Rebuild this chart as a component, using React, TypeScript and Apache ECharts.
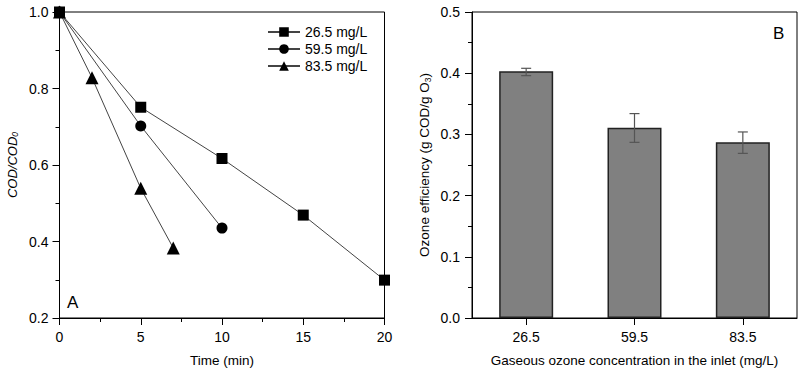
import React, { useEffect, useRef } from "react";
import * as echarts from "echarts";

const timeA = [0, 5, 10, 15, 20];
const codA = [1.0, 0.751, 0.617, 0.469, 0.299];
const timeB = [0, 5, 10];
const codB = [1.0, 0.702, 0.435];
const timeC = [0, 2, 5, 7];
const codC = [1.0, 0.828, 0.539, 0.383];
const seriesNames = ["26.5 mg/L", "59.5 mg/L", "83.5 mg/L"];

const concCategories = ["26.5", "59.5", "83.5"];
const efficiency = [0.403, 0.311, 0.287];
const errLow = [0.396, 0.287, 0.269];
const errHigh = [0.408, 0.334, 0.304];

const FONT = "Liberation Sans, Arial, sans-serif";

export default function App() {
  const ref = useRef<HTMLDivElement>(null);
  useEffect(() => {
    if (!ref.current) return;
    const chart = echarts.init(ref.current, null, { renderer: "svg" });
    const zip = (xs: number[], ys: number[]) => xs.map((x, i) => [x, ys[i]]);
    const axisText = { color: "#000", fontSize: 14, fontFamily: FONT };
    const nameText = { color: "#000", fontSize: 13.5, fontFamily: FONT };
    const lineSeries = (name: string, data: number[][], symbol: string, size: number) => ({
      name,
      type: "line",
      xAxisIndex: 0,
      yAxisIndex: 0,
      data,
      symbol,
      symbolSize: size,
      itemStyle: { color: "#000" },
      lineStyle: { color: "#444", width: 1 },
      clip: false,
      z: 3,
    });
    chart.setOption({
      animation: false,
      backgroundColor: "#fff",
      textStyle: { fontFamily: FONT },
      grid: [
        { left: 59.5, top: 12, width: 325, height: 306, show: true, borderColor: "#000", borderWidth: 1, backgroundColor: "transparent" },
        { left: 472, top: 12, width: 325, height: 306, show: true, borderColor: "#000", borderWidth: 1, backgroundColor: "transparent" },
      ],
      legend: {
        left: 267,
        top: 25,
        padding: 0,
        orient: "vertical",
        itemWidth: 32,
        itemHeight: 12,
        itemGap: 3,
        textStyle: { color: "#000", fontSize: 14, fontFamily: FONT },
        data: seriesNames,
      },
      xAxis: [
        {
          type: "value",
          gridIndex: 0,
          min: 0,
          max: 20,
          interval: 5,
          name: "Time (min)",
          nameLocation: "middle",
          nameGap: 35,
          nameTextStyle: nameText,
          axisLine: { lineStyle: { color: "#000", width: 1 } },
          axisTick: { show: true, inside: false, length: 7, lineStyle: { color: "#000" } },
          minorTick: { show: true, splitNumber: 2, length: 4, lineStyle: { color: "#000" } },
          axisLabel: { ...axisText, margin: 12 },
          splitLine: { show: false },
        },
        {
          type: "category",
          gridIndex: 1,
          data: concCategories,
          name: "Gaseous ozone concentration in the inlet (mg/L)",
          nameLocation: "middle",
          nameGap: 35,
          nameTextStyle: nameText,
          axisLine: { lineStyle: { color: "#000", width: 1 } },
          axisTick: { show: true, alignWithLabel: true, length: 7, lineStyle: { color: "#000" } },
          axisLabel: { ...axisText, margin: 12 },
          splitLine: { show: false },
        },
      ],
      yAxis: [
        {
          type: "value",
          gridIndex: 0,
          min: 0.2,
          max: 1.0,
          interval: 0.2,
          name: "{it|COD/COD}{sub|0}",
          nameLocation: "middle",
          nameGap: 40,
          nameTextStyle: {
            color: "#000",
            fontSize: 13,
            fontFamily: FONT,
            rich: {
              it: { fontSize: 13, fontStyle: "italic", fontFamily: FONT, color: "#000" },
              sub: { fontSize: 8.5, fontStyle: "italic", fontFamily: FONT, color: "#000", verticalAlign: "bottom", padding: [6, 0, 0, 0] },
            },
          },
          axisLine: { show: true, lineStyle: { color: "#000", width: 1 } },
          axisTick: { show: true, length: 7, lineStyle: { color: "#000" } },
          minorTick: { show: true, splitNumber: 2, length: 4, lineStyle: { color: "#000" } },
          axisLabel: { ...axisText, margin: 11, formatter: (v: number) => v.toFixed(1) },
          splitLine: { show: false },
        },
        {
          type: "value",
          gridIndex: 1,
          min: 0,
          max: 0.5,
          interval: 0.1,
          name: "{n|Ozone efficiency (g COD/g O}{sub|3}{n|)}",
          nameLocation: "middle",
          nameGap: 40,
          nameTextStyle: {
            ...nameText,
            rich: {
              n: { ...nameText },
              sub: { fontSize: 8.5, fontFamily: FONT, color: "#000", verticalAlign: "bottom", padding: [6, 0, 0, 0] },
            },
          },
          axisLine: { show: true, lineStyle: { color: "#000", width: 1 } },
          axisTick: { show: true, length: 7, lineStyle: { color: "#000" } },
          minorTick: { show: true, splitNumber: 2, length: 4, lineStyle: { color: "#000" } },
          axisLabel: { ...axisText, margin: 12, formatter: (v: number) => v.toFixed(1) },
          splitLine: { show: false },
        },
      ],
      series: [
        lineSeries(seriesNames[0], zip(timeA, codA), "rect", 11),
        lineSeries(seriesNames[1], zip(timeB, codB), "circle", 11),
        lineSeries(seriesNames[2], zip(timeC, codC), "triangle", 13),
        {
          type: "bar",
          xAxisIndex: 1,
          yAxisIndex: 1,
          data: efficiency,
          barWidth: 54,
          itemStyle: { color: "#808080", borderColor: "#222", borderWidth: 1.5 },
        },
        {
          type: "custom",
          xAxisIndex: 1,
          yAxisIndex: 1,
          data: concCategories.map((_, i) => [i, errLow[i], errHigh[i]]),
          z: 5,
          renderItem: (params: any, api: any) => {
            const lo = api.coord([api.value(0), api.value(1)]);
            const hi = api.coord([api.value(0), api.value(2)]);
            const hw = 5;
            const style = { stroke: "#555", lineWidth: 1.2 };
            return {
              type: "group",
              children: [
                { type: "line", shape: { x1: lo[0], y1: lo[1], x2: hi[0], y2: hi[1] }, style },
                { type: "line", shape: { x1: lo[0] - hw, y1: lo[1], x2: lo[0] + hw, y2: lo[1] }, style },
                { type: "line", shape: { x1: hi[0] - hw, y1: hi[1], x2: hi[0] + hw, y2: hi[1] }, style },
              ],
            };
          },
        },
      ],
      graphic: [
        { type: "text", left: 67, top: 294, style: { text: "A", fontSize: 17, fill: "#000", fontFamily: FONT } },
        { type: "text", left: 773, top: 25, style: { text: "B", fontSize: 17, fill: "#000", fontFamily: FONT } },
      ],
    });
    return () => chart.dispose();
  }, []);
  return <div ref={ref} style={{ width: 800, height: 372, position: "absolute", left: 0, top: 0 }} />;
}
